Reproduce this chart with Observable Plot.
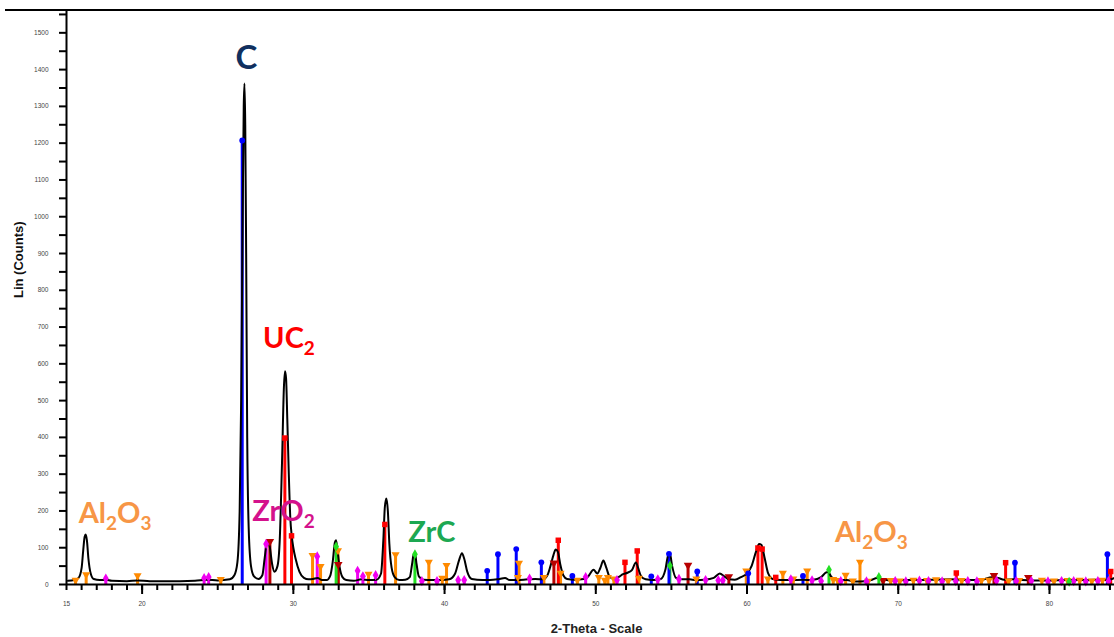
<!DOCTYPE html>
<html><head><meta charset="utf-8">
<script src="https://cdn.jsdelivr.net/npm/d3@7"></script>
<script src="https://cdn.jsdelivr.net/npm/@observablehq/plot@0.6"></script>
<style>
body{margin:0;background:#fff;}
#wrap{position:relative;width:1114px;height:637px;overflow:hidden;background:#fff;}
#topline{position:absolute;left:5px;top:9px;width:1109px;height:2px;background:#000;}
</style></head><body><div id="wrap"><div id="topline"></div></div>
<script>
// Measured diffractogram (2-theta in degrees, counts)
const profileTheta = [15.1,15.5,15.8,16.0,16.1,16.2,16.27,16.35,16.45,16.6,16.8,17.2,17.6,18.0,19.0,19.7,20.5,21.5,22.5,23.5,24.3,25.0,25.8,26.1,26.3,26.45,26.55,26.65,26.72,26.77,26.82,26.88,26.95,27.05,27.2,27.4,27.7,27.95,28.1,28.25,28.35,28.45,28.6,28.75,28.95,29.1,29.25,29.38,29.45,29.52,29.6,29.7,29.8,29.9,30.0,30.15,30.4,30.7,31.0,31.3,31.6,31.9,32.2,32.45,32.6,32.75,32.82,32.9,33.05,33.25,33.5,34.0,34.5,35.0,35.5,35.8,35.95,36.05,36.15,36.25,36.35,36.5,36.7,37.0,37.4,37.7,37.85,37.95,38.05,38.15,38.3,38.6,39.2,39.8,40.3,40.7,40.95,41.15,41.3,41.5,41.8,42.5,43.0,43.5,44.0,44.3,44.8,45.5,46.0,46.5,46.8,47.0,47.2,47.35,47.5,47.65,47.85,48.1,48.6,49.2,49.5,49.85,50.1,50.3,50.5,50.7,50.9,51.2,51.5,51.8,52.1,52.4,52.65,52.8,53.0,53.3,53.8,54.3,54.6,54.8,54.9,55.05,55.3,55.7,56.2,56.6,57.2,57.8,58.2,58.5,58.8,59.2,59.6,60.0,60.3,60.6,60.8,60.95,61.15,61.4,61.7,62.2,63.0,63.7,64.3,64.9,65.2,65.35,65.6,66.0,66.6,67.2,67.8,68.2,68.6,69.0,69.5,70.5,71.5,72.5,73.5,74.5,75.5,76.2,76.6,77.0,77.6,78.2,79.0,80.0,81.0,82.0,83.0,83.6,84.0,84.25];
const profileCounts = [10,12,18,45,90,130,136,120,70,30,15,12,13,10,9,11,9,9,9,10,13,11,14,25,60,200,500,1000,1300,1362,1250,900,400,150,50,22,15,25,70,115,120,100,55,35,50,120,330,540,580,560,450,300,180,130,100,70,35,18,14,15,18,12,12,25,60,115,120,100,50,20,12,10,14,12,13,30,120,210,234,200,110,45,20,12,13,20,55,80,82,55,22,13,12,12,14,30,65,85,70,35,15,12,12,14,18,12,12,14,15,14,25,50,80,95,88,55,25,15,13,15,22,40,30,45,65,45,22,15,20,28,32,40,60,45,22,14,12,15,40,82,84,50,18,14,14,12,13,18,30,22,14,13,20,30,50,90,110,108,75,30,15,12,12,13,12,20,32,34,20,13,12,8,9,12,18,14,11,12,12,13,14,12,13,20,18,13,14,12,11,11,12,12,13,12,13,17];

// Reference stick patterns (2-theta, counts) per phase
const al2o3Theta = [15.6,16.3,19.7,25.2,31.27,31.8,32.95,34.97,36.76,38.96,39.85,40.13,44.85,44.92,46.57,47.67,48.78,50.2,50.6,50.8,51.2,52.85,56.65,59.95,61.38,62.37,63.06,63.98,65.7,66.0,66.52,67.0,67.47,68.0,69.5,70.1,71.0,71.9,72.5,73.3,74.2,75.5,76.0,77.3,78.0,79.5,80.3,81.2,82.0,82.8,83.5];
const al2o3Counts = [15,30,27,17,82,52,95,31,84,64,20,55,22,61,22,34,15,22,15,22,18,20,18,40,18,34,18,40,17,14,28,13,64,12,14,13,15,14,16,13,14,14,15,13,14,15,13,14,15,13,15];
const zro2Theta = [17.6,24.1,24.4,28.2,31.58,34.25,34.6,35.44,38.5,39.5,40.9,41.3,45.62,49.33,51.4,54.1,55.5,57.26,58.1,58.4,62.9,64.3,64.9,66.2,67.9,69.8,70.5,71.4,72.0,72.9,73.8,74.6,75.2,76.5,77.8,78.8,79.9,80.8,81.6,82.4,83.2,83.9];
const zro2Counts = [19,20,23,113,79,40,25,28,12,12,15,15,19,23,15,17,18,15,14,14,17,14,12,12,11,12,11,13,12,11,12,12,11,13,12,12,11,12,12,11,12,12];
const carbonTheta = [26.62,42.82,43.53,44.74,46.4,48.45,53.67,54.84,56.71,60.08,63.7,77.72,83.83];
const carbonCounts = [1210,40,85,99,63,26,25,86,38,33,26,62,85];
const uc2Theta = [29.44,29.88,36.05,47.52,51.93,52.74,60.72,61.0,61.9,73.84,77.1,84.05];
const uc2Counts = [401,135,166,123,63,94,102,99,22,34,62,38];
const darkRedTheta = [28.45,32.97,47.23,56.1,58.8,69.0,76.33,78.6];
const darkRedCounts = [120,57,61,55,24,14,27,22];
const zrcTheta = [32.83,38.04,54.9,65.42,68.72,81.3];
const zrcCounts = [106,85,54,43,23,10];

// Phase annotations
const labelNames = ["C","UC2","ZrO2","ZrC","Al2O3","Al2O3"];
const labelTheta = [26.9,28.0,27.28,37.6,15.81,65.81];
const labelCounts = [1430,668,198,141,193,140];
const labelColors = ["#10305f","#ff0000","#d4128c","#1da852","#f79646","#f79646"];

// Axis ticks
const yTickValues = d3.range(0, 1551, 50);
const xMinorTicks = d3.range(15, 85, 1);
const xMajorTicks = [20,30,40,50,60,70,80];
const xTickLabels = [15,20,30,40,50,60,70,80];

const profile = profileTheta.map((t, i) => ({theta: t, counts: profileCounts[i]}));
function phase(name, thetas, counts, color, symbol, r, rotate) {
  return thetas.map((t, i) => ({phase: name, theta: t, counts: counts[i], color, symbol, r, rotate}));
}
const sticks = [
  ...phase("Al2O3", al2o3Theta, al2o3Counts, "#ff8a00", "triangle", 3.2, 180),
  ...phase("ZrO2", zro2Theta, zro2Counts, "#f000f0", "diamond", 3.4, 0),
  ...phase("UO2", darkRedTheta, darkRedCounts, "#b80000", "triangle", 3.6, 180),
  ...phase("ZrC", zrcTheta, zrcCounts, "#22e022", "diamond", 3.2, 0),
  ...phase("UC2", uc2Theta, uc2Counts, "#ff0000", "square", 3.4, 0),
  ...phase("C", carbonTheta, carbonCounts, "#0000ff", "circle", 3, 0)
];
const labels = labelNames.map((n, i) => ({name: n, theta: labelTheta[i], counts: labelCounts[i], color: labelColors[i]}));

const chart = Plot.plot({
  width: 1114, height: 637,
  marginLeft: 66, marginRight: 0, marginTop: 11, marginBottom: 53,
  style: {background: "transparent", fontFamily: "Liberation Sans, Arial, sans-serif", overflow: "hidden"},
  x: {domain: [15, 84.3], label: null},
  y: {domain: [0, 1558], label: null},
  marks: [
    Plot.ruleX(sticks, {x: "theta", y1: 0, y2: "counts", stroke: d => d.color, strokeWidth: 3}),
    Plot.line(profile, {x: "theta", y: "counts", stroke: "#000", strokeWidth: 2, curve: "monotone-x"}),
    Plot.dot(sticks.filter(d => d.rotate === 180), {x: "theta", y: "counts", fill: d => d.color, stroke: null, symbol: "triangle", r: d => d.r, rotate: 180, dy: 1}),
    Plot.dot(sticks.filter(d => d.rotate !== 180), {x: "theta", y: "counts", fill: d => d.color, stroke: null, symbol: d => d.symbol, r: d => d.r, dy: 1}),
    Plot.ruleX([15], {stroke: "#000", strokeWidth: 2}),
    Plot.ruleY([0], {stroke: "#000", strokeWidth: 2}),
    Plot.axisY({ticks: yTickValues, tickSize: 7, tickPadding: 11, strokeWidth: 2, fontSize: 6.5, fill: "#444", tickFormat: d => d % 100 === 0 ? String(d) : "", label: null}),
    Plot.axisX({ticks: xMinorTicks, tickSize: 6, strokeWidth: 2, tickFormat: () => "", label: null}),
    Plot.axisX({ticks: xMajorTicks, tickSize: 10, strokeWidth: 2, tickFormat: () => "", label: null}),
    Plot.axisX({ticks: xTickLabels, tickSize: 0, tickPadding: 17, fontSize: 6.5, fill: "#444", tickFormat: d => String(d), label: null}),
    Plot.text(["Lin (Counts)"], {text: d => d, frameAnchor: "left", dx: -48, rotate: -90, fontSize: 13, fontWeight: "bold", fill: "#111"}),
    Plot.text(["2-Theta - Scale"], {text: d => d, frameAnchor: "bottom", dx: 6, dy: 48, lineAnchor: "bottom", fontSize: 13, fontWeight: "bold", fill: "#222"}),
    Plot.text(labels.filter(d => d.name === "C"), {x: "theta", y: "counts", text: "name", fill: d => d.color, fontSize: 33, textAnchor: "middle", fontWeight: "bold", fontFamily: "Lato, 'Open Sans', sans-serif"}),
    Plot.text(labels.filter(d => d.name !== "C"), {x: "theta", y: "counts", text: "name", fill: d => d.color, fontSize: 29, textAnchor: "start", fontWeight: "bold", fontFamily: "Lato, 'Open Sans', sans-serif"})
  ]
});

// Render digits in chemical formulas as subscripts
chart.querySelectorAll("text").forEach(t => {
  const s = t.textContent;
  if (!labelNames.includes(s) || !/\d/.test(s)) return;
  t.textContent = "";
  let sub = false;
  for (const m of s.matchAll(/\d+|\D+/g)) {
    const ts = document.createElementNS("http://www.w3.org/2000/svg", "tspan");
    ts.textContent = m[0];
    const isDigit = /\d/.test(m[0]);
    if (isDigit) { ts.setAttribute("font-size", "19"); ts.setAttribute("dy", "7"); }
    else if (sub) { ts.setAttribute("dy", "-7"); }
    sub = isDigit;
    t.appendChild(ts);
  }
});

document.getElementById("wrap").appendChild(chart);
</script>
</body></html>
